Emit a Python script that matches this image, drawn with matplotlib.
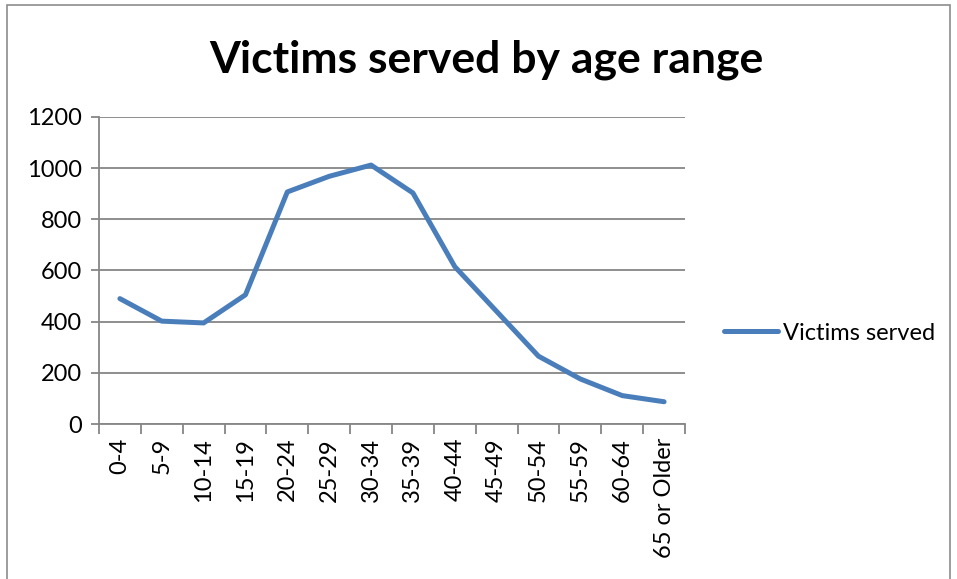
import numpy as np
import matplotlib
matplotlib.use("Agg")
import matplotlib.pyplot as plt
from matplotlib.patches import Rectangle

age_ranges = ["0-4", "5-9", "10-14", "15-19", "20-24", "25-29", "30-34",
              "35-39", "40-44", "45-49", "50-54", "55-59", "60-64", "65 or Older"]
victims_served = [490, 402, 395, 505, 907, 968, 1012, 903, 615, 440, 265, 176, 111, 87]
y_ticks = [0, 200, 400, 600, 800, 1000, 1200]

plt.rcParams['font.family'] = ['Lato', 'DejaVu Sans']

fig = plt.figure(figsize=(9.57, 5.79), dpi=100)
ax = fig.add_axes([0.1034, 0.2677, 0.6124, 0.5303])

# chart frame (Excel style)
fig.patches.append(Rectangle((0.0075, -0.05), 0.985, 1.042, transform=fig.transFigure,
                             fill=False, edgecolor="#8c8c8c", linewidth=1.2))

x = np.arange(len(age_ranges))
ax.plot(x, victims_served, color="#4A7EBB", linewidth=3.6, solid_capstyle="round",
        solid_joinstyle="round", label="Victims served", zorder=3)

ax.set_xlim(-0.5, len(age_ranges) - 0.5)
ax.set_ylim(0, 1200)
ax.set_yticks(y_ticks)
ax.yaxis.grid(True, color="#868686", linewidth=1.3)
ax.set_axisbelow(True)

ax.set_xticks(x)
ax.set_xticklabels(age_ranges, rotation=90, fontsize=17)
ax.set_xticks(np.arange(len(age_ranges) + 1) - 0.5, minor=True)
ax.tick_params(axis="x", which="major", length=0, pad=10)
ax.tick_params(axis="x", which="minor", length=7, width=1.3, color="#868686", direction="out")
ax.tick_params(axis="y", length=6, width=1.3, color="#868686", labelsize=17, pad=6)

for side in ["top", "right"]:
    ax.spines[side].set_visible(False)
for side in ["left", "bottom"]:
    ax.spines[side].set_color("#868686")
    ax.spines[side].set_linewidth(1.3)

fig.text(0.508, 0.896, "Victims served by age range", ha="center", va="center",
         fontsize=32, fontweight="bold")

ax.legend(loc="center left", bbox_to_anchor=(1.066, 0.296), frameon=False,
          fontsize=17, handlelength=2.3, handletextpad=0.22,
          borderpad=0, borderaxespad=0)

fig.savefig("out.png", dpi=100)
